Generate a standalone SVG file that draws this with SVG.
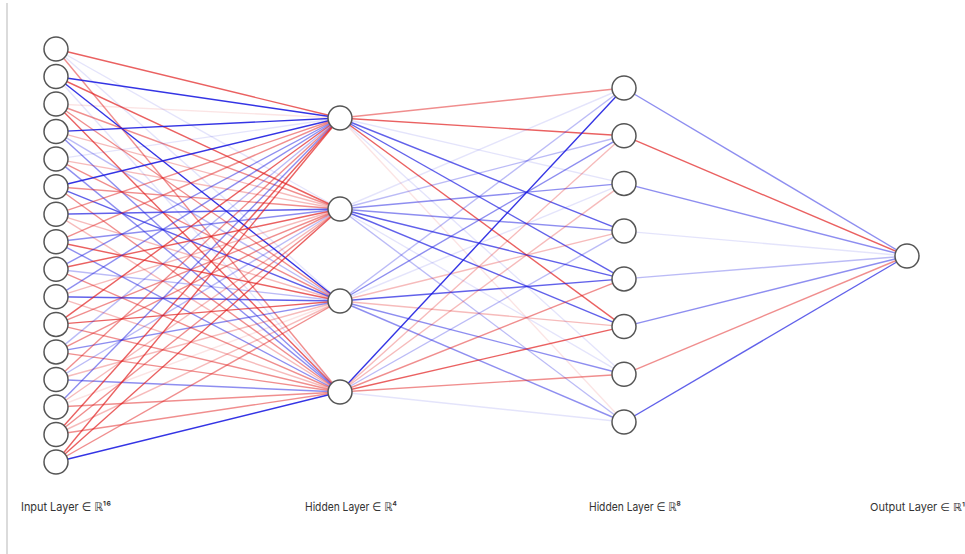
<svg xmlns="http://www.w3.org/2000/svg" width="965" height="554" viewBox="0 0 965 554">
<style>
  line { stroke-width: 1.4; }
  .r1 { stroke: rgb(225,30,30); stroke-opacity: 0.12; }
  .r2 { stroke: rgb(225,30,30); stroke-opacity: 0.3; }
  .r3 { stroke: rgb(225,30,30); stroke-opacity: 0.5; }
  .r4 { stroke: rgb(225,30,30); stroke-opacity: 0.7; }
  .r5 { stroke: rgb(225,30,30); stroke-opacity: 0.9; }
  .b1 { stroke: rgb(30,30,225); stroke-opacity: 0.12; }
  .b2 { stroke: rgb(30,30,225); stroke-opacity: 0.3; }
  .b3 { stroke: rgb(30,30,225); stroke-opacity: 0.5; }
  .b4 { stroke: rgb(30,30,225); stroke-opacity: 0.7; }
  .b5 { stroke: rgb(30,30,225); stroke-opacity: 0.9; }
  .node circle { fill: #ffffff; stroke: #555555; stroke-width: 1.5; }
  .label { font-family: Inter, "Liberation Sans", "DejaVu Sans", sans-serif; font-size: 12px; fill: #333333; }
  .label-sm { font-family: Inter, "Liberation Sans", "DejaVu Sans", sans-serif; font-size: 11px; fill: #333333; }
</style>
<rect width="965" height="554" fill="#ffffff"/>
<line x1="7" y1="3" x2="7" y2="554" stroke="#cccccc" stroke-width="1"/>

<g id="connectors">
  <!-- input layer to first hidden layer -->
  <line class="r4" x1="56" y1="49" x2="340" y2="118"/>
  <line class="b1" x1="56" y1="49" x2="340" y2="209"/>
  <line class="b1" x1="56" y1="49" x2="340" y2="301"/>
  <line class="r3" x1="56" y1="49" x2="340" y2="392"/>
  <line class="b5" x1="56" y1="76.5" x2="340" y2="118"/>
  <line class="r4" x1="56" y1="76.5" x2="340" y2="209"/>
  <line class="b5" x1="56" y1="76.5" x2="340" y2="301"/>
  <line class="b1" x1="56" y1="76.5" x2="340" y2="392"/>
  <line class="r1" x1="56" y1="104" x2="340" y2="118"/>
  <line class="r3" x1="56" y1="104" x2="340" y2="209"/>
  <line class="r3" x1="56" y1="104" x2="340" y2="301"/>
  <line class="r4" x1="56" y1="104" x2="340" y2="392"/>
  <line class="b5" x1="56" y1="131.6" x2="340" y2="118"/>
  <line class="r2" x1="56" y1="131.6" x2="340" y2="209"/>
  <line class="b2" x1="56" y1="131.6" x2="340" y2="301"/>
  <line class="b3" x1="56" y1="131.6" x2="340" y2="392"/>
  <line class="b1" x1="56" y1="159.1" x2="340" y2="118"/>
  <line class="r2" x1="56" y1="159.1" x2="340" y2="209"/>
  <line class="r3" x1="56" y1="159.1" x2="340" y2="301"/>
  <line class="b3" x1="56" y1="159.1" x2="340" y2="392"/>
  <line class="b5" x1="56" y1="186.7" x2="340" y2="118"/>
  <line class="r3" x1="56" y1="186.7" x2="340" y2="209"/>
  <line class="b4" x1="56" y1="186.7" x2="340" y2="301"/>
  <line class="r3" x1="56" y1="186.7" x2="340" y2="392"/>
  <line class="r3" x1="56" y1="214.2" x2="340" y2="118"/>
  <line class="b4" x1="56" y1="214.2" x2="340" y2="209"/>
  <line class="r2" x1="56" y1="214.2" x2="340" y2="301"/>
  <line class="r2" x1="56" y1="214.2" x2="340" y2="392"/>
  <line class="r3" x1="56" y1="241.8" x2="340" y2="118"/>
  <line class="b3" x1="56" y1="241.8" x2="340" y2="209"/>
  <line class="r4" x1="56" y1="241.8" x2="340" y2="301"/>
  <line class="b3" x1="56" y1="241.8" x2="340" y2="392"/>
  <line class="b3" x1="56" y1="269.3" x2="340" y2="118"/>
  <line class="r4" x1="56" y1="269.3" x2="340" y2="209"/>
  <line class="b2" x1="56" y1="269.3" x2="340" y2="301"/>
  <line class="r3" x1="56" y1="269.3" x2="340" y2="392"/>
  <line class="b3" x1="56" y1="296.8" x2="340" y2="118"/>
  <line class="r2" x1="56" y1="296.8" x2="340" y2="209"/>
  <line class="b4" x1="56" y1="296.8" x2="340" y2="301"/>
  <line class="r2" x1="56" y1="296.8" x2="340" y2="392"/>
  <line class="r4" x1="56" y1="324.4" x2="340" y2="118"/>
  <line class="r3" x1="56" y1="324.4" x2="340" y2="209"/>
  <line class="r4" x1="56" y1="324.4" x2="340" y2="301"/>
  <line class="r3" x1="56" y1="324.4" x2="340" y2="392"/>
  <line class="b2" x1="56" y1="351.9" x2="340" y2="118"/>
  <line class="r3" x1="56" y1="351.9" x2="340" y2="209"/>
  <line class="b3" x1="56" y1="351.9" x2="340" y2="301"/>
  <line class="r3" x1="56" y1="351.9" x2="340" y2="392"/>
  <line class="r3" x1="56" y1="379.5" x2="340" y2="118"/>
  <line class="b2" x1="56" y1="379.5" x2="340" y2="209"/>
  <line class="r2" x1="56" y1="379.5" x2="340" y2="301"/>
  <line class="b3" x1="56" y1="379.5" x2="340" y2="392"/>
  <line class="b3" x1="56" y1="407" x2="340" y2="118"/>
  <line class="r2" x1="56" y1="407" x2="340" y2="209"/>
  <line class="r1" x1="56" y1="407" x2="340" y2="301"/>
  <line class="r3" x1="56" y1="407" x2="340" y2="392"/>
  <line class="r4" x1="56" y1="434.5" x2="340" y2="118"/>
  <line class="r3" x1="56" y1="434.5" x2="340" y2="209"/>
  <line class="r2" x1="56" y1="434.5" x2="340" y2="301"/>
  <line class="r3" x1="56" y1="434.5" x2="340" y2="392"/>
  <line class="r4" x1="56" y1="462" x2="340" y2="118"/>
  <line class="r4" x1="56" y1="462" x2="340" y2="209"/>
  <line class="r3" x1="56" y1="462" x2="340" y2="301"/>
  <line class="b5" x1="56" y1="462" x2="340" y2="392"/>

  <!-- first hidden layer to second hidden layer -->
  <line class="r3" x1="340" y1="118" x2="624" y2="88"/>
  <line class="r4" x1="340" y1="118" x2="624" y2="135.7"/>
  <line class="b1" x1="340" y1="118" x2="624" y2="183.4"/>
  <line class="b4" x1="340" y1="118" x2="624" y2="231.1"/>
  <line class="b4" x1="340" y1="118" x2="624" y2="278.9"/>
  <line class="r4" x1="340" y1="118" x2="624" y2="326.6"/>
  <line class="b1" x1="340" y1="118" x2="624" y2="374.3"/>
  <line class="r1" x1="340" y1="118" x2="624" y2="422"/>
  <line class="b1" x1="340" y1="209" x2="624" y2="88"/>
  <line class="b2" x1="340" y1="209" x2="624" y2="135.7"/>
  <line class="b3" x1="340" y1="209" x2="624" y2="183.4"/>
  <line class="b3" x1="340" y1="209" x2="624" y2="231.1"/>
  <line class="b4" x1="340" y1="209" x2="624" y2="278.9"/>
  <line class="b4" x1="340" y1="209" x2="624" y2="326.6"/>
  <line class="b1" x1="340" y1="209" x2="624" y2="374.3"/>
  <line class="b2" x1="340" y1="209" x2="624" y2="422"/>
  <line class="b2" x1="340" y1="301" x2="624" y2="88"/>
  <line class="b3" x1="340" y1="301" x2="624" y2="135.7"/>
  <line class="b1" x1="340" y1="301" x2="624" y2="183.4"/>
  <line class="r2" x1="340" y1="301" x2="624" y2="231.1"/>
  <line class="b4" x1="340" y1="301" x2="624" y2="278.9"/>
  <line class="r2" x1="340" y1="301" x2="624" y2="326.6"/>
  <line class="b3" x1="340" y1="301" x2="624" y2="374.3"/>
  <line class="b3" x1="340" y1="301" x2="624" y2="422"/>
  <line class="b5" x1="340" y1="392" x2="624" y2="88"/>
  <line class="r2" x1="340" y1="392" x2="624" y2="135.7"/>
  <line class="r2" x1="340" y1="392" x2="624" y2="183.4"/>
  <line class="b2" x1="340" y1="392" x2="624" y2="231.1"/>
  <line class="r3" x1="340" y1="392" x2="624" y2="278.9"/>
  <line class="r4" x1="340" y1="392" x2="624" y2="326.6"/>
  <line class="r3" x1="340" y1="392" x2="624" y2="374.3"/>
  <line class="b1" x1="340" y1="392" x2="624" y2="422"/>

  <!-- second hidden layer to output -->
  <line class="b3" x1="624" y1="88" x2="907" y2="256"/>
  <line class="r4" x1="624" y1="135.7" x2="907" y2="256"/>
  <line class="b3" x1="624" y1="183.4" x2="907" y2="256"/>
  <line class="b1" x1="624" y1="231.1" x2="907" y2="256"/>
  <line class="b2" x1="624" y1="278.9" x2="907" y2="256"/>
  <line class="b3" x1="624" y1="326.6" x2="907" y2="256"/>
  <line class="r3" x1="624" y1="374.3" x2="907" y2="256"/>
  <line class="b4" x1="624" y1="422" x2="907" y2="256"/>
</g>

<g id="input-layer" class="node">
  <circle id="in0" cx="56" cy="49" r="12"/>
  <circle id="in1" cx="56" cy="76.5" r="12"/>
  <circle id="in2" cx="56" cy="104" r="12"/>
  <circle id="in3" cx="56" cy="131.6" r="12"/>
  <circle id="in4" cx="56" cy="159.1" r="12"/>
  <circle id="in5" cx="56" cy="186.7" r="12"/>
  <circle id="in6" cx="56" cy="214.2" r="12"/>
  <circle id="in7" cx="56" cy="241.8" r="12"/>
  <circle id="in8" cx="56" cy="269.3" r="12"/>
  <circle id="in9" cx="56" cy="296.8" r="12"/>
  <circle id="in10" cx="56" cy="324.4" r="12"/>
  <circle id="in11" cx="56" cy="351.9" r="12"/>
  <circle id="in12" cx="56" cy="379.5" r="12"/>
  <circle id="in13" cx="56" cy="407" r="12"/>
  <circle id="in14" cx="56" cy="434.5" r="12"/>
  <circle id="in15" cx="56" cy="462" r="12"/>
</g>
<g id="hidden-layer-1" class="node">
  <circle id="h1-0" cx="340" cy="118" r="12"/>
  <circle id="h1-1" cx="340" cy="209" r="12"/>
  <circle id="h1-2" cx="340" cy="301" r="12"/>
  <circle id="h1-3" cx="340" cy="392" r="12"/>
</g>
<g id="hidden-layer-2" class="node">
  <circle id="h2-0" cx="624" cy="88" r="12"/>
  <circle id="h2-1" cx="624" cy="135.7" r="12"/>
  <circle id="h2-2" cx="624" cy="183.4" r="12"/>
  <circle id="h2-3" cx="624" cy="231.1" r="12"/>
  <circle id="h2-4" cx="624" cy="278.9" r="12"/>
  <circle id="h2-5" cx="624" cy="326.6" r="12"/>
  <circle id="h2-6" cx="624" cy="374.3" r="12"/>
  <circle id="h2-7" cx="624" cy="422" r="12"/>
</g>
<g id="output-layer" class="node">
  <circle id="out0" cx="907" cy="256" r="12"/>
</g>

<g id="labels">
  <text class="label" x="21" y="511" textLength="90" lengthAdjust="spacingAndGlyphs">Input Layer ∈ ℝ¹⁶</text>
  <text class="label" x="305" y="511" textLength="92" lengthAdjust="spacingAndGlyphs">Hidden Layer ∈ ℝ⁴</text>
  <text class="label" x="589" y="511" textLength="92" lengthAdjust="spacingAndGlyphs">Hidden Layer ∈ ℝ⁸</text>
  <text class="label-sm" x="870" y="511">Output Layer ∈ ℝ¹</text>
</g>
</svg>
